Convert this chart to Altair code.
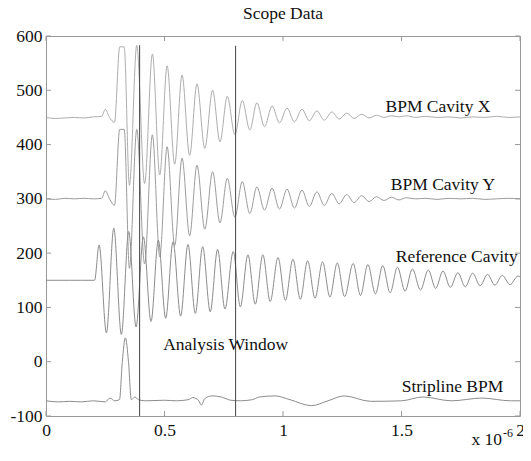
import altair as alt
import pandas as pd

# ---------------- data (time in 1e-6 s) ----------------
SERIES_NAMES = ["BPM Cavity X", "BPM Cavity Y", "Reference Cavity", "Stripline BPM"]
SERIES_COLORS = ["#adadad", "#9c9c9c", "#8c8c8c", "#8c8c8c"]

X_T = [0.0, 0.04, 0.08, 0.12, 0.16, 0.2, 0.235, 0.25, 0.268, 0.289, 0.311, 0.33,
       0.352, 0.383, 0.416, 0.449, 0.48, 0.511, 0.543, 0.574, 0.606, 0.637,
       0.67, 0.703, 0.734, 0.765, 0.797, 0.828, 0.86, 0.89, 0.922, 0.954,
       0.985, 1.017, 1.048, 1.08, 1.111, 1.143, 1.174, 1.206, 1.237, 1.269,
       1.3, 1.332, 1.363, 1.395, 1.426, 1.458, 1.489, 1.52,
       1.56, 1.6, 1.65, 1.7, 1.75, 1.8, 1.85, 1.9, 1.95, 2.0]
X_V = [450, 448, 449, 450, 449, 451, 452, 465, 450, 441, 580, 580,
       325, 583, 328, 567, 344, 545, 364, 528, 380, 512,
       393, 500, 405, 489, 418, 481, 427, 477, 433, 471,
       440, 467, 442, 465, 444, 462, 445, 460, 447, 458,
       448, 456, 449, 454, 450, 453, 451, 453,
       450, 452, 450, 451, 449, 451, 450, 452, 450, 451]

Y_T = X_T
Y_V = [300, 299, 301, 300, 301, 300, 301, 315, 300, 288, 428, 428,
       172, 428, 180, 418, 193, 396, 214, 375, 232, 362,
       244, 350, 256, 338, 266, 332, 273, 322, 279, 320,
       281, 318, 283, 316, 286, 313, 288, 310, 291, 308,
       293, 306, 295, 304, 297, 303, 298, 302,
       300, 301, 299, 301, 300, 301, 299, 300, 301, 300]

R_T = [0.0, 0.05, 0.1, 0.15, 0.205,
       0.224, 0.255, 0.286, 0.318, 0.349, 0.38, 0.411, 0.443, 0.474, 0.505,
       0.536, 0.568, 0.599, 0.63, 0.661, 0.693, 0.724, 0.755, 0.79, 0.82,
       0.852, 0.883, 0.915, 0.946, 0.979, 1.01, 1.042, 1.073, 1.104, 1.135,
       1.167, 1.198, 1.229, 1.26, 1.296, 1.327, 1.358, 1.39, 1.421, 1.452,
       1.483, 1.515, 1.546, 1.58, 1.613, 1.644, 1.675, 1.706, 1.738, 1.769,
       1.8, 1.832, 1.863, 1.894, 1.925, 1.958, 1.992, 2.0]
R_V = [150, 150, 150, 150, 150,
       215, 53, 246, 50, 240, 64, 230, 74, 224, 80,
       221, 84, 216, 89, 212, 92, 207, 97, 203, 101,
       197, 106, 197, 111, 192, 113, 189, 115, 186, 117,
       184, 119, 182, 120, 181, 122, 179, 125, 177, 127,
       174, 130, 171, 132, 169, 135, 167, 137, 164, 138,
       163, 140, 161, 141, 159, 142, 158, 156]

S_T = [0.0, 0.05, 0.1, 0.15, 0.2, 0.25, 0.27, 0.29, 0.31, 0.322,
       0.335, 0.348, 0.36, 0.375, 0.39, 0.42, 0.5, 0.55, 0.6, 0.62,
       0.645, 0.655, 0.67, 0.7, 0.74, 0.78, 0.82, 0.87, 0.9, 0.967,
       1.03, 1.12, 1.19, 1.258, 1.37, 1.5, 1.59, 1.71, 1.84, 1.96, 2.0]
S_V = [-72, -74, -73, -74, -72, -74, -67, -72, -70, 0,
       44, 0, -70, -65, -70, -72, -71, -72, -70, -66,
       -72, -80, -68, -63, -65, -71, -72, -70, -65, -63,
       -70, -81, -72, -63, -73, -72, -65, -72, -67, -72, -72]

LABELS = ["BPM Cavity X", "BPM Cavity Y", "Reference Cavity", "Analysis Window", "Stripline BPM"]
LABEL_T = [1.654, 1.675, 1.733, 0.758, 1.715]
LABEL_V = [469, 326, 192, 31, -46]

VLINE_T = [0.395, 0.8]
VLINE_TOP = [583, 582]
VLINE_BOTTOM = [-100, -100]

X_TICKS = [0, 0.5, 1, 1.5, 2]
Y_TICKS = [-100, 0, 100, 200, 300, 400, 500, 600]
MULT_TEXT = ["x 10", "-6"]
TITLE = "Scope Data"

# ---------------- build tables ----------------
rows = []
for name, ts, vs in zip(SERIES_NAMES, [X_T, Y_T, R_T, S_T], [X_V, Y_V, R_V, S_V]):
    for t, v in zip(ts, vs):
        rows.append({"series": name, "t": t, "v": v})
traces_df = pd.DataFrame(rows)
labels_df = pd.DataFrame({"t": LABEL_T, "v": LABEL_V, "label": LABELS})
vlines_df = pd.DataFrame({"t": VLINE_T, "v": VLINE_TOP, "v2": VLINE_BOTTOM})
xt_df = pd.DataFrame({"t": X_TICKS})
yt_df = pd.DataFrame({"v": Y_TICKS})

SERIF = "Liberation Serif"
FS = 17.5
W, H = 474, 380
AXIS_COLOR = "#999999"
TEXT_COLOR = "#111111"

xscale = alt.Scale(domain=[0, 2], nice=False, zero=False)
yscale = alt.Scale(domain=[-100, 600], nice=False, zero=False)

x_axis = alt.Axis(values=X_TICKS, orient="bottom", title=None, ticks=False,
                  labelExpr="'' + datum.value",
                  domain=False, grid=False, labelFont=SERIF, labelFontSize=FS,
                  labelColor=TEXT_COLOR, labelPadding=5, labelFlush=False, labelOverlap=False)
y_axis = alt.Axis(values=Y_TICKS, orient="left", title=None, ticks=False,
                  labelExpr="'' + datum.value",
                  domain=False, grid=False, labelFont=SERIF, labelFontSize=FS,
                  labelColor=TEXT_COLOR, labelPadding=4, labelOverlap=False)

# same encodings (with the same axes) in every layer, so the axes merge cleanly
X_ENC = alt.X("t:Q", scale=xscale, axis=x_axis)
Y_ENC = alt.Y("v:Q", scale=yscale, axis=y_axis)

traces = alt.Chart(traces_df).mark_line(interpolate="monotone", strokeWidth=1).encode(
    x=X_ENC, y=Y_ENC,
    color=alt.Color("series:N", scale=alt.Scale(domain=SERIES_NAMES, range=SERIES_COLORS), legend=None),
)

vlines = alt.Chart(vlines_df).mark_rule(color="#444444", strokeWidth=1).encode(
    x=X_ENC, y=Y_ENC, y2="v2:Q"
)

labels = alt.Chart(labels_df).mark_text(font=SERIF, fontSize=FS, color=TEXT_COLOR,
                                        align="center", baseline="middle").encode(
    x=X_ENC, y=Y_ENC, text="label:N"
)

tick_style = dict(color=AXIS_COLOR, strokeWidth=1)
bottom_ticks = alt.Chart(xt_df).mark_rule(**tick_style).encode(
    x=X_ENC, y=alt.value(H), y2=alt.value(H - 5))
top_ticks = alt.Chart(xt_df).mark_rule(**tick_style).encode(
    x=X_ENC, y=alt.value(0), y2=alt.value(5))
left_ticks = alt.Chart(yt_df).mark_rule(**tick_style).encode(
    y=Y_ENC, x=alt.value(0), x2=alt.value(5))
right_ticks = alt.Chart(yt_df).mark_rule(**tick_style).encode(
    y=Y_ENC, x=alt.value(W), x2=alt.value(W - 5))

mult_df = pd.DataFrame({"s": [MULT_TEXT[0]]})
exp_df = pd.DataFrame({"s": [MULT_TEXT[1]]})
mult = alt.Chart(mult_df).mark_text(font=SERIF, fontSize=FS, color=TEXT_COLOR, align="right",
                                    baseline="alphabetic").encode(
    text="s:N", x=alt.value(W - 18), y=alt.value(H + 29))
expo = alt.Chart(exp_df).mark_text(font=SERIF, fontSize=12, color=TEXT_COLOR, align="left",
                                   baseline="alphabetic").encode(
    text="s:N", x=alt.value(W - 17), y=alt.value(H + 21))

chart = alt.layer(
    traces, vlines, labels, bottom_ticks, top_ticks, left_ticks, right_ticks, mult, expo
).properties(
    width=W, height=H,
    title=alt.TitleParams(TITLE, font=SERIF, fontSize=FS, fontWeight="normal", color=TEXT_COLOR,
                          anchor="middle", frame="group", offset=5),
    padding={"left": 38, "top": 28, "right": 3, "bottom": 33},
    autosize=alt.AutoSizeParams(type="none"),
).configure(
    background="white"
).configure_view(
    stroke=AXIS_COLOR, strokeWidth=1
).configure_axis(
    labelFont=SERIF, labelFontSize=FS, labelColor=TEXT_COLOR
).configure_title(
    font=SERIF, fontSize=FS, fontWeight="normal", color=TEXT_COLOR
)

chart.save("out.html", embed_options={"renderer": "svg", "actions": False})
